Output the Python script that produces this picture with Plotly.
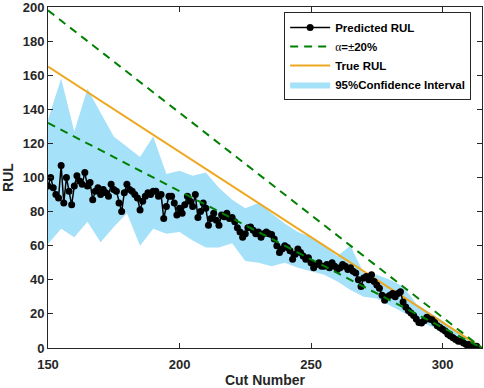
import plotly.graph_objects as go

# ---- data ----
cut_pred = list(range(150, 314))
rul_pred = [
    95, 100, 94, 90, 88, 107, 85, 100, 92, 84,
    95, 101, 98, 96, 103, 95, 97, 87, 92, 94,
    90, 93, 91, 89, 96, 93, 92, 85, 80, 91,
    96, 93, 92, 90, 88, 81, 86, 89, 91, 90,
    92, 92, 89, 90, 76, 83, 89, 89, 85, 78,
    82, 79, 84, 89, 86, 83, 90, 76.5, 80, 85,
    82, 72, 76, 79, 75, 72, 78, 77, 79, 76,
    76.5, 74, 70.5, 68, 65, 67, 70.5, 71, 69, 67,
    68, 65, 67, 68, 67, 66.5, 64, 60, 56, 58,
    60, 59, 57, 52, 55, 58, 56, 54, 52, 53,
    50, 47, 49, 50, 48, 48, 49, 47, 50, 48,
    46, 47, 49, 48, 46, 47, 45, 44, 40, 36,
    41, 42, 40, 43, 39, 37, 35, 31, 28, 30,
    31, 32, 30, 32, 33, 27, 24, 22, 20.5, 19,
    17, 15, 14.7, 16, 18, 17, 16.5, 15, 13, 12,
    11, 10, 8, 7, 6, 5, 4, 4, 3, 2,
    2, 1.5, 1, 1,
]

cut_band = [150, 155, 160, 165, 170, 175, 180, 185, 190, 195, 200, 205, 210,
            215, 220, 225, 230, 235, 240, 245, 250, 255, 260, 265, 270, 275,
            280, 285, 290, 295, 300, 305, 310, 314]
band_upper = [134, 158, 127, 152, 138, 124, 118, 112, 124, 102, 104, 101, 103,
              94, 87, 82, 85, 79, 73, 68, 65, 60, 54, 60, 44, 43,
              40, 36, 26, 21, 16, 10, 5, 1]
band_lower = [61, 70, 65, 74, 62, 71, 79, 60, 70, 67, 68, 63, 59,
              59, 61.5, 51, 50, 48, 50, 47, 45, 43, 39, 34, 30, 29,
              25, 21, 17, 13, 10, 6, 2, 0.5]

cut_true = [150, 315]
rul_true = [165, 0]
alpha = 0.2
rul_upper = [v * (1 + alpha) for v in rul_true]
rul_lower = [v * (1 - alpha) for v in rul_true]

x_ticks = [150, 200, 250, 300]
y_ticks = [0, 20, 40, 60, 80, 100, 120, 140, 160, 180, 200]

# ---- styles ----
BAND = "#A6E1FA"
ORANGE = "#EEA820"
GREEN = "#008000"
AXIS = "#262626"
FONT = "Liberation Sans, Arial, sans-serif"

fig = go.Figure()

fig.add_trace(go.Scatter(x=cut_band, y=band_lower, mode="lines",
                         line=dict(width=0, color=BAND), showlegend=False,
                         hoverinfo="skip"))
fig.add_trace(go.Scatter(x=cut_band, y=band_upper, mode="lines", fill="tonexty",
                         fillcolor=BAND, line=dict(width=0, color=BAND),
                         name="<b>95%Confidence Interval</b>", legendrank=4))

fig.add_trace(go.Scatter(x=cut_true, y=rul_true, mode="lines",
                         line=dict(color=ORANGE, width=2),
                         name="<b>True RUL</b>", legendrank=3))

fig.add_trace(go.Scatter(x=cut_pred, y=rul_pred, mode="lines+markers",
                         line=dict(color="black", width=1.5),
                         marker=dict(color="black", size=7),
                         name="<b>Predicted RUL</b>", legendrank=1))

fig.add_trace(go.Scatter(x=cut_true, y=rul_upper, mode="lines",
                         line=dict(color=GREEN, width=2, dash="8px,6px"),
                         name="<span style='font-family:Liberation Serif'>α</span><b>=</b>±<b>20%</b>",
                         legendgroup="alpha", legendrank=2))
fig.add_trace(go.Scatter(x=cut_true, y=rul_lower, mode="lines",
                         line=dict(color=GREEN, width=2, dash="8px,6px"),
                         legendgroup="alpha", showlegend=False))

axis_common = dict(showline=True, linecolor=AXIS, linewidth=1, mirror="ticks",
                   ticks="inside", ticklen=5, tickcolor=AXIS, showgrid=False,
                   zeroline=False, automargin=False, ticklabeloverflow="allow",
                   tickfont=dict(family=FONT, size=13, color=AXIS))

fig.update_xaxes(range=[150, 315], tickvals=x_ticks,
                 ticktext=[f"<b>{t}</b>" for t in x_ticks],
                 ticklabelstandoff=4,
                 title=dict(text="<b>Cut Number</b>", standoff=5,
                            font=dict(family=FONT, size=14, color=AXIS)),
                 **axis_common)
fig.update_yaxes(range=[0, 200], tickvals=y_ticks,
                 ticktext=[f"<b>{t}</b>" for t in y_ticks],
                 title=dict(text="<b>RUL</b>", standoff=6,
                            font=dict(family=FONT, size=14, color=AXIS)),
                 **axis_common)

fig.update_layout(
    width=484, height=388, autosize=False,
    margin=dict(l=48, r=2, t=7, b=40),
    paper_bgcolor="white", plot_bgcolor="white",
    font=dict(family=FONT, color="black"),
    legend=dict(x=0.975, y=0.985, xanchor="right", yanchor="top",
                bgcolor="white", bordercolor=AXIS, borderwidth=1,
                font=dict(family=FONT, size=11.5, color="black"),
                tracegroupgap=0, itemwidth=40),
    showlegend=True,
)

fig.write_html("out.html",
               config={"displayModeBar": False},
               post_script="document.body.style.margin='0px';"
                           "document.body.style.overflow='hidden';")
